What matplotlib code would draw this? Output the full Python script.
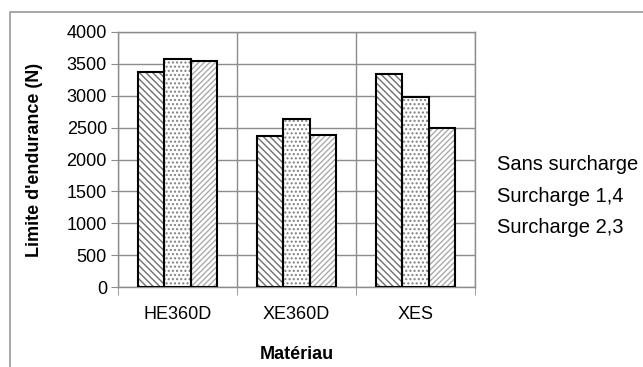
import numpy as np
import matplotlib.pyplot as plt
from matplotlib.patches import Rectangle

plt.rcParams['font.family'] = ['Liberation Sans', 'DejaVu Sans']
plt.rcParams['hatch.linewidth'] = 1.0

# Limite d'endurance par matériau et par niveau de surcharge
materiaux = ["HE360D", "XE360D", "XES"]
series = ["Sans surcharge", "Surcharge 1,4", "Surcharge 2,3"]
sans_surcharge = [3370, 2370, 3340]
surcharge_14 = [3570, 2630, 2980]
surcharge_23 = [3540, 2380, 2490]
valeurs = [sans_surcharge, surcharge_14, surcharge_23]

hachures = ['\\\\\\\\\\', '....', '//////']
couleurs_hachures = ['#707070', '#808080', '#ababab']

fig = plt.figure(figsize=(6.43, 3.67), dpi=100)

# cadre gris autour du graphique
fig.patches.append(Rectangle((10 / 643, -0.1), 1.2, 1 - 12 / 367 + 0.1,
                             transform=fig.transFigure, fill=False,
                             edgecolor='#9a9a9a', linewidth=1.2))

ax = fig.add_axes([118 / 643, 1 - 287 / 367, (475 - 118) / 643, (287 - 32) / 367])

x = np.arange(len(materiaux))
w = 1 / 4.5
for i, (vals, h, hc) in enumerate(zip(valeurs, hachures, couleurs_hachures)):
    pos = x + (i - 1) * w
    ax.bar(pos, vals, w, color='white', edgecolor=hc, hatch=h, linewidth=0, zorder=2)
    ax.bar(pos, vals, w, color='none', edgecolor='black', linewidth=1.5,
           zorder=3, label=series[i])

ax.set_xlim(-0.5, 2.5)
ax.set_ylim(0, 4000)
ax.set_yticks(np.arange(0, 4001, 500))
ax.set_xticks(x)
ax.set_xticklabels(materiaux)
ax.set_xticks([-0.5, 0.5, 1.5, 2.5], minor=True)

grid_col = '#8c8c8c'
ax.grid(axis='y', which='major', color=grid_col, linewidth=1, zorder=0)
ax.grid(axis='x', which='minor', color=grid_col, linewidth=1, zorder=0)
ax.set_axisbelow(True)
for s in ax.spines.values():
    s.set_color(grid_col)
    s.set_linewidth(1)

ax.tick_params(axis='x', which='major', length=0, pad=14, labelsize=13)
ax.tick_params(axis='x', which='minor', length=6, color=grid_col)
ax.tick_params(axis='y', length=5, color=grid_col, labelsize=13, pad=3)

ax.set_xlabel("Matériau", fontsize=13, fontweight='bold', labelpad=16)
ax.set_ylabel("Limite d'endurance (N)", fontsize=13, fontweight='bold', labelpad=17)

leg = ax.legend(loc='center left', bbox_to_anchor=(1.01, 0.355), frameon=False,
                fontsize=14.5, handlelength=0, handletextpad=0, labelspacing=0.62)
for hd in leg.legend_handles:
    hd.set_visible(False)

fig.savefig("out.png", dpi=100)
